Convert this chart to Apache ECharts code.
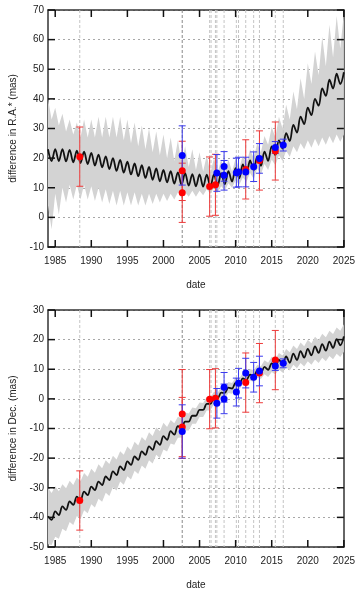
<!DOCTYPE html>
<html>
<head>
<meta charset="utf-8">
<script src="https://cdn.jsdelivr.net/npm/echarts@6/dist/echarts.min.js"></script>
<style>
html, body { margin: 0; padding: 0; background: #fff; }
#main { width: 358px; height: 591px; }
</style>
</head>
<body>
<div id="main"></div>
<script>
// model sampled every half year
var years = [1984, 1984.5, 1985, 1985.5, 1986, 1986.5, 1987, 1987.5, 1988, 1988.5, 1989, 1989.5,
    1990, 1990.5, 1991, 1991.5, 1992, 1992.5, 1993, 1993.5, 1994, 1994.5, 1995, 1995.5,
    1996, 1996.5, 1997, 1997.5, 1998, 1998.5, 1999, 1999.5, 2000, 2000.5, 2001, 2001.5,
    2002, 2002.5, 2003, 2003.5, 2004, 2004.5, 2005, 2005.5, 2006, 2006.5, 2007, 2007.5,
    2008, 2008.5, 2009, 2009.5, 2010, 2010.5, 2011, 2011.5, 2012, 2012.5, 2013, 2013.5,
    2014, 2014.5, 2015, 2015.5, 2016, 2016.5, 2017, 2017.5, 2018, 2018.5, 2019, 2019.5,
    2020, 2020.5, 2021, 2021.5, 2022, 2022.5, 2023, 2023.5, 2024, 2024.5, 2025];

var raLine = [23.0, 19.0, 23.0, 19.0, 23.0, 18.9, 22.8, 18.6, 22.5, 18.3, 22.2, 18.0,
    21.8, 17.5, 21.2, 16.9, 20.6, 16.3, 20.0, 15.7, 19.4, 15.1, 18.8, 14.5,
    18.2, 13.9, 17.6, 13.3, 17.0, 12.7, 16.5, 12.2, 16.0, 11.8, 15.6, 11.4,
    15.2, 11.0, 14.9, 10.7, 14.6, 10.5, 14.5, 10.4, 14.4, 10.4, 14.5, 10.7,
    14.9, 11.2, 15.6, 12.1, 16.6, 13.2, 17.9, 14.5, 19.2, 15.9, 20.6, 17.4,
    22.2, 19.1, 24.0, 21.0, 26.0, 23.2, 28.4, 25.8, 31.2, 28.6, 34.0, 31.5,
    37.0, 34.5, 40.0, 37.7, 43.5, 41.0, 46.5, 43.5, 48.5, 45.0, 49.0];
var raUpper = [40, 33, 37, 31, 35, 29, 33, 28, 32, 27, 33, 27,
    33, 27, 34, 27, 34, 27, 34, 27, 34, 26, 33, 25,
    32, 24, 31, 23, 30, 22, 29, 21, 28, 20, 27, 19,
    26, 18, 24, 17, 23, 16, 22, 15.5, 21, 15, 20, 15,
    19.5, 15, 19.5, 15.5, 20, 16.5, 21, 18, 23, 20, 25, 22,
    27.5, 24.5, 30.5, 27, 34, 30, 38, 33, 42.5, 36.5, 47, 40,
    52, 45, 56, 48, 61, 51, 65, 54, 68, 57, 69];
var raLower = [4, -4, 8, 1, 10, 5, 11, 6, 11, 6, 11, 6,
    10.5, 5.5, 10, 5, 9.5, 4.5, 9, 4, 9, 4, 8.5, 4,
    8.5, 4, 8, 4, 8, 4.5, 8, 5, 8, 5.5, 8, 6,
    8.5, 6.5, 8.5, 7, 9, 7, 9, 7.5, 9.5, 8, 10, 8.5,
    10.5, 9, 11.5, 10, 12.5, 11, 13.5, 12, 15, 13, 16.5, 14.5,
    18, 16, 19.5, 17.5, 21, 19, 22.5, 20.5, 24, 22, 25, 23,
    26, 23.5, 26.5, 24, 27, 24.5, 27.5, 25, 28, 25.5, 28];

var decLine = [-39.6, -40.8, -38.0, -39.2, -36.3, -37.5, -34.6, -35.8, -33.0, -34.2, -31.3, -32.5,
    -29.6, -30.8, -27.9, -29.1, -26.2, -27.4, -24.5, -25.7, -22.8, -24.0, -21.1, -22.3,
    -19.4, -20.6, -17.7, -18.9, -16.0, -17.2, -14.3, -15.5, -12.6, -13.8, -10.9, -12.1,
    -9.2, -10.0, -7.7, -7.7, -5.7, -5.7, -3.7, -3.7, -1.7, -1.7, 0.3, 0.2,
    2.1, 2.0, 3.8, 3.5, 5.4, 5.0, 6.9, 6.4, 8.2, 7.6, 9.5, 8.8,
    10.8, 9.8, 12.0, 10.7, 13.2, 11.7, 14.3, 12.2, 15.3, 13.1, 16.1, 13.9,
    16.9, 14.7, 17.7, 15.5, 18.5, 16.3, 19.3, 17.2, 20.2, 18.1, 21.1];
var decUpper = [-30.1, -31.8, -29.5, -31.2, -28.8, -30.2, -27.6, -29.1, -26.5, -27.8, -25.0, -26.3,
    -23.6, -24.9, -22.1, -23.4, -20.7, -22.0, -19.2, -20.5, -17.7, -18.9, -16.1, -17.3,
    -14.5, -15.7, -12.9, -14.1, -11.3, -12.5, -9.7, -10.9, -8.1, -9.5, -7.1, -8.2,
    -6.0, -6.6, -4.6, -4.9, -2.9, -3.2, -1.2, -1.4, 0.6, 0.4, 2.4, 2.1,
    4.0, 3.8, 5.7, 5.4, 7.2, 6.9, 8.7, 8.3, 10.1, 9.7, 11.4, 11.0,
    13.0, 12.2, 14.2, 13.4, 15.5, 14.6, 16.8, 15.7, 18.0, 16.8, 19.0, 17.8,
    20.0, 18.8, 21.0, 19.8, 22.0, 20.8, 23.0, 21.9, 24.1, 23.0, 25.2];
var decLower = [-49.1, -49.3, -46.5, -47.2, -43.8, -44.7, -41.6, -42.6, -39.5, -40.6, -37.6, -38.6,
    -35.6, -36.7, -33.7, -34.7, -31.7, -32.8, -29.8, -30.9, -27.9, -29.0, -26.1, -27.2,
    -24.3, -25.4, -22.5, -23.6, -20.7, -21.8, -18.9, -20.0, -17.1, -17.8, -15.1, -15.5,
    -13.1, -13.0, -10.7, -10.7, -8.4, -8.4, -6.1, -6.1, -3.9, -3.9, -1.7, -1.8,
    0.3, 0.1, 2.0, 1.7, 3.5, 3.2, 5.0, 4.5, 6.2, 5.7, 7.3, 6.7,
    8.3, 7.4, 9.1, 8.2, 9.9, 8.9, 10.7, 9.6, 11.5, 10.3, 12.1, 10.9,
    12.7, 11.5, 13.3, 12.1, 13.9, 12.7, 14.5, 13.4, 15.2, 14.1, 15.9];

// observation epochs (vertical lines)
var epochs = [1988.4, 2002.6, 2006.4, 2006.6, 2007.2, 2007.4, 2008.4, 2010.1, 2010.4,
    2011.4, 2012.5, 2013.3, 2015.5, 2016.6];
var darkEpoch = 2002.6;
var yearTicks = [1985, 1990, 1995, 2000, 2005, 2010, 2015, 2020, 2025];
var raTicks = [-10, 0, 10, 20, 30, 40, 50, 60, 70];
var decTicks = [-50, -40, -30, -20, -10, 0, 10, 20, 30];

// [epoch, value, error]
var raRed = [[1988.4, 20.5, 10], [2002.6, 15.7, 10], [2002.6, 8.3, 10], [2006.4, 10.4, 10],
    [2007.2, 11.0, 10.3], [2011.4, 16.2, 10], [2013.3, 19.2, 10], [2015.5, 22.4, 9.8]];
var raBlue = [[2002.6, 20.9, 10], [2007.4, 15.0, 6.2], [2008.4, 17.2, 5], [2008.4, 14.2, 5],
    [2010.1, 15.1, 4.9], [2010.4, 15.3, 5], [2011.4, 15.3, 5], [2012.5, 17.1, 5],
    [2013.3, 19.9, 5], [2015.5, 23.6, 2], [2016.6, 24.4, 2]];
var decRed = [[1988.4, -34.3, 10], [2002.6, -5.1, 15], [2002.6, -9.5, 10], [2006.4, -0.1, 10],
    [2007.2, 0.2, 10], [2011.4, 5.5, 10], [2013.3, 8.7, 10], [2015.5, 13.1, 10]];
var decBlue = [[2002.6, -11.0, 9], [2007.4, -1.5, 5], [2008.4, 3.9, 5], [2008.4, 0.0, 5],
    [2010.1, 2.3, 4.7], [2010.4, 5.3, 5], [2011.4, 8.7, 5], [2012.5, 7.3, 5],
    [2013.3, 9.4, 5], [2015.5, 11.1, 1.5], [2016.6, 12.0, 1.5]];

var font = 'Liberation Sans, Arial, sans-serif';
var txt = '#222';
var frame = { show: true, onZero: false, lineStyle: { color: '#333', width: 1.5 } };
var tickLen = 7;

function pairs(vals) {
    return years.map(function (t, i) { return [t, vals[i]]; });
}

function bandItem(up, lo) {
    return function (params, api) {
        var pts = [];
        for (var i = 0; i < years.length; i++) pts.push(api.coord([years[i], up[i]]));
        for (var j = years.length - 1; j >= 0; j--) pts.push(api.coord([years[j], lo[j]]));
        return { type: 'polygon', shape: { points: pts }, style: { fill: '#d3d3d3' } };
    };
}

function epochItem(params, api) {
    var t = api.value(0);
    var x = api.coord([t, 0])[0];
    var cs = params.coordSys;
    return {
        type: 'line',
        shape: { x1: x, y1: cs.y, x2: x, y2: cs.y + cs.height },
        style: { stroke: t === darkEpoch ? '#8a8a8a' : '#c4c4c4', lineWidth: 1, lineDash: [3, 2] }
    };
}

// inward ticks on all four sides of the frame
function xTickItem(params, api) {
    var x = api.coord([api.value(0), api.value(1)])[0];
    var cs = params.coordSys, b = cs.y + cs.height;
    return { type: 'group', children: [
        { type: 'rect', shape: { x: x - 0.75, y: b - tickLen, width: 1.5, height: tickLen }, style: { fill: '#111' } },
        { type: 'rect', shape: { x: x - 0.75, y: cs.y, width: 1.5, height: tickLen }, style: { fill: '#111' } }
    ] };
}
function yTickItem(params, api) {
    var y = api.coord([api.value(0), api.value(1)])[1];
    var cs = params.coordSys, r = cs.x + cs.width;
    return { type: 'group', children: [
        { type: 'rect', shape: { x: cs.x, y: y - 0.75, width: tickLen, height: 1.5 }, style: { fill: '#111' } },
        { type: 'rect', shape: { x: r - tickLen, y: y - 0.75, width: tickLen, height: 1.5 }, style: { fill: '#111' } }
    ] };
}

function errItem(color) {
    return function (params, api) {
        var x = api.value(0), y = api.value(1), e = api.value(2);
        var a = api.coord([x, y + e]), b = api.coord([x, y - e]);
        var w = 3.5, st = { stroke: color, lineWidth: 1 };
        return {
            type: 'group', children: [
                { type: 'line', shape: { x1: a[0], y1: a[1], x2: b[0], y2: b[1] }, style: st },
                { type: 'line', shape: { x1: a[0] - w, y1: a[1], x2: a[0] + w, y2: a[1] }, style: st },
                { type: 'line', shape: { x1: b[0] - w, y1: b[1], x2: b[0] + w, y2: b[1] }, style: st }
            ]
        };
    };
}

function panelSeries(xi, yi, line, up, lo, red, blue, yTicks) {
    return [
        { type: 'custom', xAxisIndex: xi, yAxisIndex: yi, data: [[1984, 0]], renderItem: bandItem(up, lo), clip: true, silent: true, z: 1 },
        { type: 'custom', xAxisIndex: xi, yAxisIndex: yi, data: epochs.map(function (t) { return [t, 0]; }), encode: { x: 0, y: 1 }, renderItem: epochItem, silent: true, z: 2 },
        { type: 'line', xAxisIndex: xi, yAxisIndex: yi, data: pairs(line), showSymbol: false, smooth: 0.35, lineStyle: { color: '#111', width: 1.8 }, silent: true, z: 3 },
        { type: 'custom', xAxisIndex: xi, yAxisIndex: yi, data: red, encode: { x: 0, y: 1 }, renderItem: errItem('#ee3b3b'), silent: true, z: 4 },
        { type: 'custom', xAxisIndex: xi, yAxisIndex: yi, data: blue, encode: { x: 0, y: 1 }, renderItem: errItem('#3b3bee'), silent: true, z: 4 },
        { type: 'scatter', xAxisIndex: xi, yAxisIndex: yi, data: red.map(function (d) { return [d[0], d[1]]; }), symbolSize: 7, itemStyle: { color: '#ff0000', opacity: 1 }, silent: true, z: 5 },
        { type: 'scatter', xAxisIndex: xi, yAxisIndex: yi, data: blue.map(function (d) { return [d[0], d[1]]; }), symbolSize: 7, itemStyle: { color: '#0000ff', opacity: 1 }, silent: true, z: 6 },
        { type: 'custom', xAxisIndex: xi, yAxisIndex: yi, data: yearTicks.map(function (t) { return [t, 0]; }), encode: { x: 0, y: 1 }, renderItem: xTickItem, silent: true, z: 7 },
        { type: 'custom', xAxisIndex: xi, yAxisIndex: yi, data: yTicks.map(function (v) { return [2000, v]; }), encode: { x: 0, y: 1 }, renderItem: yTickItem, silent: true, z: 7 }
    ];
}

function xAxes(gi) {
    return [
        { gridIndex: gi, type: 'value', min: 1984, max: 2025, position: 'bottom',
          name: 'date', nameLocation: 'middle', nameGap: 33,
          nameTextStyle: { fontFamily: font, fontSize: 10, color: txt },
          axisLine: frame, axisTick: { show: false }, splitLine: { show: false },
          axisLabel: { customValues: yearTicks, margin: 9, fontFamily: font, fontSize: 10, color: txt,
                       formatter: function (v) { return String(v); } } },
        { gridIndex: gi, type: 'value', min: 1984, max: 2025, position: 'top',
          axisLine: frame, axisTick: { show: false }, splitLine: { show: false }, axisLabel: { show: false } }
    ];
}

function yAxes(gi, lo, hi, name) {
    return [
        { gridIndex: gi, type: 'value', min: lo, max: hi, interval: 10, position: 'left',
          name: name, nameLocation: 'middle', nameGap: 27,
          nameTextStyle: { fontFamily: font, fontSize: 10, color: txt },
          axisLine: frame, axisTick: { show: false },
          splitLine: { show: true, lineStyle: { color: '#a8a8a8', type: [2, 3], width: 1 } },
          axisLabel: { margin: 4, fontFamily: font, fontSize: 10, color: txt } },
        { gridIndex: gi, type: 'value', min: lo, max: hi, interval: 10, position: 'right',
          axisLine: frame, axisTick: { show: false }, splitLine: { show: false }, axisLabel: { show: false } }
    ];
}

var chart = echarts.init(document.getElementById('main'));
chart.setOption({
    animation: false,
    grid: [
        { left: 48, right: 11, top: 10, bottom: 344 },
        { left: 48, right: 11, top: 310, bottom: 44 }
    ],
    xAxis: xAxes(0).concat(xAxes(1)),
    yAxis: yAxes(0, -10, 70, 'difference in R.A.* (mas)').concat(yAxes(1, -50, 30, 'difference in Dec. (mas)')),
    series: panelSeries(0, 0, raLine, raUpper, raLower, raRed, raBlue, raTicks)
        .concat(panelSeries(2, 2, decLine, decUpper, decLower, decRed, decBlue, decTicks))
});
</script>
</body>
</html>
